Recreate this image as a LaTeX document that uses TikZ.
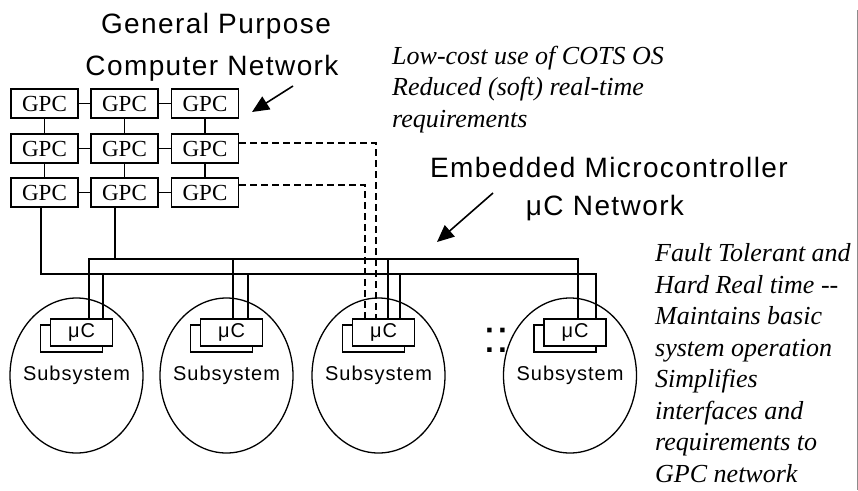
\documentclass[tikz,border=0pt]{standalone}
\usepackage{fontspec}
\setmainfont{Liberation Serif}
\newfontfamily\lblfont[LetterSpace=5]{Liberation Sans}
\newfontfamily\plainsans{Liberation Sans}
\usetikzlibrary{arrows.meta, positioning, calc, shapes.geometric}
\tikzstyle{gpc}    = [rectangle, draw, line width=1.6pt, minimum width=67pt, minimum height=29pt,
                      inner sep=0pt, font=\fontsize{23}{23}\selectfont]
\tikzstyle{mcu}    = [rectangle, draw, line width=1.4pt, fill=white, minimum width=62pt,
                      minimum height=27pt, inner sep=0pt, font=\lblfont\fontsize{20}{20}\selectfont]
\tikzstyle{subsys} = [ellipse, draw, line width=1.3pt, minimum width=133pt, minimum height=155pt,
                      inner sep=0pt, label={[font=\lblfont\fontsize{20}{20}\selectfont]center:Subsystem}]
\tikzstyle{link}   = [line width=1.1pt]
\tikzstyle{bus}    = [line width=1.4pt]

\begin{document}
\begin{tikzpicture}[x=1pt, y=-1pt,
      title/.style={font=\lblfont\fontsize{28}{28}\selectfont, inner sep=0pt},
      note/.style={font=\itshape\fontsize{26}{31.5}\selectfont, align=left, inner sep=0pt},
      dashlink/.style={line width=1.3pt, dash pattern=on 7pt off 4pt},
      callout/.style={-{Triangle[length=17pt,width=15pt]}, line width=1.6pt},
    ]
    \useasboundingbox (0,0) rectangle (858,490);

    % headings and notes
    \node[title, anchor=base] (gp) at (216,33)  {General Purpose};
    \node[title, anchor=base] (cn) at (212,75)  {Computer Network};
    \node[title, anchor=base] (em) at (609,177) {Embedded Microcontroller};
    \node[title, anchor=base] (mn) at (605,215) {μC Network};

    % (base = last line)
    \node[note, anchor=base west] (soft) at (392,127)
      {Low-cost use of COTS OS\\Reduced (soft) real-time\\requirements};
    \node[note, anchor=base west] (hard) at (655,482)
      {Fault Tolerant and\\Hard Real time -{}-\\Maintains basic\\system operation\\Simplifies\\interfaces and\\requirements to\\GPC network};

    % GPC grid
    \foreach \r/\y in {1/103.5, 2/148.5, 3/192.5}{
      \node[gpc] (g\r1) at (44.5,\y) {GPC};
      \node[gpc] (g\r2) at (124.5,\y) {GPC};
      \node[gpc] (g\r3) at (205,\y) {GPC};
      \draw[link] (g\r1) -- (g\r2);
      \draw[link] (g\r2) -- (g\r3);
    }
    \foreach \c in {1,2,3}{
      \draw[link] (g1\c) -- (g2\c);
      \draw[link] (g2\c) -- (g3\c);
    }

    % subsystems
    \foreach \i/\x in {1/76.5, 2/226.5, 3/378.5, 4/570}{
      \node[subsys] (s\i) at (\x,375.5) {};
      \node[mcu] (b\i) at (\x-5,338.5) {};
      \node[mcu] (mu\i) at (\x+5,332.5) {μC};
    }
    \node[font=\plainsans\fontsize{46}{46}\selectfont, anchor=base, inner sep=0pt] (dots) at (496,352) {::};

    % buses
    \coordinate (ubl) at (89,259);
    \coordinate (ubr) at (578,259);
    \coordinate (lbl) at (41,274);
    \coordinate (lbr) at (596,274);
    \coordinate (ut)  at (115,259);
    \draw[bus] (ubl |- mu1.north) -- (ubl) -- (ubr) -- (ubr |- mu4.north);
    \draw[bus] (lbl |- g31.south) -- (lbl) -- (lbr) -- (lbr |- mu4.north);
    \draw[bus] (ut |- g32.south) -- (ut);

    \foreach \i/\xu/\xl in {1/89/103, 2/233/248, 3/388/400}{
      \coordinate (u\i) at (\xu,259);
      \coordinate (l\i) at (\xl,274);
      \draw[bus] (l\i) -- (l\i |- mu\i.north);
      \draw[bus] (u\i) -- (u\i |- mu\i.north);
    }

    % soft links to subsystem 3
    \coordinate (d2) at (376,143);
    \coordinate (d3) at (365,185);
    \draw[dashlink] (g23.east |- d2) -- (d2) -- (d2 |- mu3.north);
    \draw[dashlink] (g33.east |- d3) -- (d3) -- (d3 |- mu3.north);

    % pointers
    \coordinate (a1) at (293,86);
    \coordinate (a1t) at (252,112);
    \coordinate (a2) at (493,193);
    \coordinate (a2t) at (437,242);
    \draw[callout] (a1) -- (a1t);
    \draw[callout] (a2) -- (a2t);

    \draw[black!45, line width=0.8pt] (857,10) -- (857,490);
  \end{tikzpicture}
\end{document}
